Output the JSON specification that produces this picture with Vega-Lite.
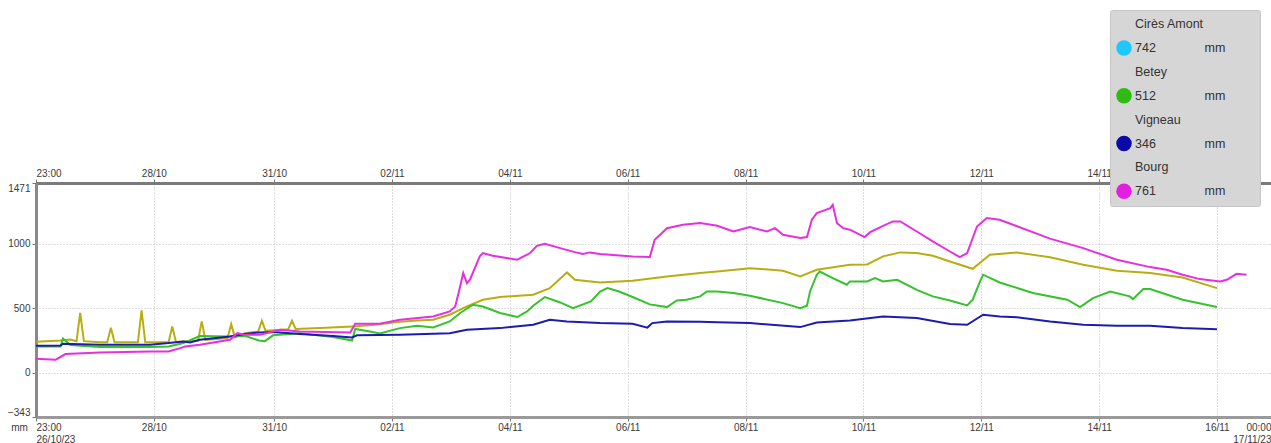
{
  "$schema": "https://vega.github.io/schema/vega-lite/v6.json",
  "width": 1235,
  "height": 234,
  "autosize": {"type": "none"},
  "padding": {"left": 36, "top": 183, "right": 0, "bottom": 26},
  "background": "white",
  "config": {
    "view": {"stroke": null},
    "font": "Liberation Sans"
  },
  "datasets": {
    "releves": [
      {"station":"Autre station","date":"2023-10-26T23:00","mm":240},
      {"station":"Autre station","date":"2023-10-27T09:00","mm":250},
      {"station":"Autre station","date":"2023-10-27T13:00","mm":258},
      {"station":"Autre station","date":"2023-10-27T15:30","mm":245},
      {"station":"Autre station","date":"2023-10-27T17:00","mm":465},
      {"station":"Autre station","date":"2023-10-27T18:30","mm":245},
      {"station":"Autre station","date":"2023-10-28T01:00","mm":236},
      {"station":"Autre station","date":"2023-10-28T04:00","mm":236},
      {"station":"Autre station","date":"2023-10-28T05:30","mm":348},
      {"station":"Autre station","date":"2023-10-28T07:00","mm":236},
      {"station":"Autre station","date":"2023-10-28T16:30","mm":236},
      {"station":"Autre station","date":"2023-10-28T18:00","mm":483},
      {"station":"Autre station","date":"2023-10-28T19:30","mm":236},
      {"station":"Autre station","date":"2023-10-29T05:00","mm":236},
      {"station":"Autre station","date":"2023-10-29T06:30","mm":359},
      {"station":"Autre station","date":"2023-10-29T08:00","mm":238},
      {"station":"Autre station","date":"2023-10-29T17:00","mm":250},
      {"station":"Autre station","date":"2023-10-29T18:30","mm":398},
      {"station":"Autre station","date":"2023-10-29T20:00","mm":255},
      {"station":"Autre station","date":"2023-10-30T05:00","mm":269},
      {"station":"Autre station","date":"2023-10-30T06:30","mm":377},
      {"station":"Autre station","date":"2023-10-30T08:00","mm":275},
      {"station":"Autre station","date":"2023-10-30T12:00","mm":307},
      {"station":"Autre station","date":"2023-10-30T17:30","mm":320},
      {"station":"Autre station","date":"2023-10-30T19:00","mm":403},
      {"station":"Autre station","date":"2023-10-30T20:30","mm":325},
      {"station":"Autre station","date":"2023-10-31T05:45","mm":338},
      {"station":"Autre station","date":"2023-10-31T07:15","mm":403},
      {"station":"Autre station","date":"2023-10-31T08:45","mm":340},
      {"station":"Autre station","date":"2023-10-31T18:45","mm":346},
      {"station":"Autre station","date":"2023-11-01T08:00","mm":359},
      {"station":"Autre station","date":"2023-11-01T16:00","mm":370},
      {"station":"Autre station","date":"2023-11-02T03:15","mm":395},
      {"station":"Autre station","date":"2023-11-02T10:15","mm":405},
      {"station":"Autre station","date":"2023-11-02T16:45","mm":411},
      {"station":"Autre station","date":"2023-11-02T23:30","mm":450},
      {"station":"Autre station","date":"2023-11-03T06:30","mm":514},
      {"station":"Autre station","date":"2023-11-03T13:00","mm":566},
      {"station":"Autre station","date":"2023-11-03T20:00","mm":587},
      {"station":"Autre station","date":"2023-11-04T09:30","mm":605},
      {"station":"Autre station","date":"2023-11-04T16:15","mm":656},
      {"station":"Autre station","date":"2023-11-04T23:15","mm":778},
      {"station":"Autre station","date":"2023-11-05T02:30","mm":721},
      {"station":"Autre station","date":"2023-11-05T12:45","mm":700},
      {"station":"Autre station","date":"2023-11-06T02:00","mm":713},
      {"station":"Autre station","date":"2023-11-06T16:00","mm":747},
      {"station":"Autre station","date":"2023-11-07T05:30","mm":773},
      {"station":"Autre station","date":"2023-11-07T12:30","mm":785},
      {"station":"Autre station","date":"2023-11-08T01:45","mm":811},
      {"station":"Autre station","date":"2023-11-08T15:15","mm":791},
      {"station":"Autre station","date":"2023-11-08T22:15","mm":747},
      {"station":"Autre station","date":"2023-11-09T05:00","mm":798},
      {"station":"Autre station","date":"2023-11-09T18:30","mm":837},
      {"station":"Autre station","date":"2023-11-10T01:30","mm":840},
      {"station":"Autre station","date":"2023-11-10T08:00","mm":902},
      {"station":"Autre station","date":"2023-11-10T15:00","mm":933},
      {"station":"Autre station","date":"2023-11-10T21:45","mm":928},
      {"station":"Autre station","date":"2023-11-11T04:15","mm":907},
      {"station":"Autre station","date":"2023-11-11T11:15","mm":863},
      {"station":"Autre station","date":"2023-11-11T20:30","mm":806},
      {"station":"Autre station","date":"2023-11-12T03:30","mm":915},
      {"station":"Autre station","date":"2023-11-12T14:30","mm":933},
      {"station":"Autre station","date":"2023-11-13T04:00","mm":895},
      {"station":"Autre station","date":"2023-11-13T17:30","mm":837},
      {"station":"Autre station","date":"2023-11-14T07:15","mm":791},
      {"station":"Autre station","date":"2023-11-14T20:45","mm":773},
      {"station":"Autre station","date":"2023-11-15T10:00","mm":739},
      {"station":"Autre station","date":"2023-11-16T00:00","mm":656},

      {"station":"Betey","date":"2023-10-26T23:00","mm":204},
      {"station":"Betey","date":"2023-10-27T09:00","mm":204},
      {"station":"Betey","date":"2023-10-27T10:00","mm":265},
      {"station":"Betey","date":"2023-10-27T13:00","mm":215},
      {"station":"Betey","date":"2023-10-28T01:00","mm":200},
      {"station":"Betey","date":"2023-10-28T21:30","mm":200},
      {"station":"Betey","date":"2023-10-29T05:00","mm":204},
      {"station":"Betey","date":"2023-10-29T11:00","mm":230},
      {"station":"Betey","date":"2023-10-29T17:45","mm":285},
      {"station":"Betey","date":"2023-10-30T06:00","mm":281},
      {"station":"Betey","date":"2023-10-30T12:00","mm":287},
      {"station":"Betey","date":"2023-10-30T17:45","mm":250},
      {"station":"Betey","date":"2023-10-30T20:15","mm":245},
      {"station":"Betey","date":"2023-10-30T23:30","mm":290},
      {"station":"Betey","date":"2023-10-31T10:30","mm":307},
      {"station":"Betey","date":"2023-11-01T00:00","mm":277},
      {"station":"Betey","date":"2023-11-01T07:45","mm":250},
      {"station":"Betey","date":"2023-11-01T09:00","mm":340},
      {"station":"Betey","date":"2023-11-01T15:00","mm":320},
      {"station":"Betey","date":"2023-11-01T19:00","mm":305},
      {"station":"Betey","date":"2023-11-02T03:15","mm":346},
      {"station":"Betey","date":"2023-11-02T10:15","mm":364},
      {"station":"Betey","date":"2023-11-02T16:45","mm":351},
      {"station":"Betey","date":"2023-11-02T23:30","mm":398},
      {"station":"Betey","date":"2023-11-03T03:45","mm":463},
      {"station":"Betey","date":"2023-11-03T09:00","mm":527},
      {"station":"Betey","date":"2023-11-03T13:00","mm":514},
      {"station":"Betey","date":"2023-11-03T20:00","mm":463},
      {"station":"Betey","date":"2023-11-04T03:00","mm":432},
      {"station":"Betey","date":"2023-11-04T07:00","mm":475},
      {"station":"Betey","date":"2023-11-04T09:30","mm":519},
      {"station":"Betey","date":"2023-11-04T14:15","mm":587},
      {"station":"Betey","date":"2023-11-04T20:30","mm":545},
      {"station":"Betey","date":"2023-11-05T01:45","mm":501},
      {"station":"Betey","date":"2023-11-05T09:00","mm":553},
      {"station":"Betey","date":"2023-11-05T12:45","mm":630},
      {"station":"Betey","date":"2023-11-05T15:45","mm":656},
      {"station":"Betey","date":"2023-11-05T20:30","mm":630},
      {"station":"Betey","date":"2023-11-06T02:00","mm":587},
      {"station":"Betey","date":"2023-11-06T09:00","mm":530},
      {"station":"Betey","date":"2023-11-06T16:00","mm":509},
      {"station":"Betey","date":"2023-11-06T20:00","mm":560},
      {"station":"Betey","date":"2023-11-07T00:00","mm":566},
      {"station":"Betey","date":"2023-11-07T05:30","mm":592},
      {"station":"Betey","date":"2023-11-07T08:15","mm":630},
      {"station":"Betey","date":"2023-11-07T12:30","mm":630},
      {"station":"Betey","date":"2023-11-07T19:00","mm":618},
      {"station":"Betey","date":"2023-11-08T01:45","mm":597},
      {"station":"Betey","date":"2023-11-08T15:15","mm":540},
      {"station":"Betey","date":"2023-11-08T22:15","mm":501},
      {"station":"Betey","date":"2023-11-09T01:00","mm":520},
      {"station":"Betey","date":"2023-11-09T02:15","mm":630},
      {"station":"Betey","date":"2023-11-09T05:00","mm":760},
      {"station":"Betey","date":"2023-11-09T06:15","mm":785},
      {"station":"Betey","date":"2023-11-09T11:30","mm":734},
      {"station":"Betey","date":"2023-11-09T17:15","mm":682},
      {"station":"Betey","date":"2023-11-09T18:30","mm":708},
      {"station":"Betey","date":"2023-11-10T01:30","mm":708},
      {"station":"Betey","date":"2023-11-10T04:45","mm":734},
      {"station":"Betey","date":"2023-11-10T08:00","mm":708},
      {"station":"Betey","date":"2023-11-10T13:45","mm":721},
      {"station":"Betey","date":"2023-11-10T21:45","mm":643},
      {"station":"Betey","date":"2023-11-11T04:15","mm":592},
      {"station":"Betey","date":"2023-11-11T11:15","mm":560},
      {"station":"Betey","date":"2023-11-11T18:15","mm":522},
      {"station":"Betey","date":"2023-11-11T20:30","mm":566},
      {"station":"Betey","date":"2023-11-11T23:30","mm":708},
      {"station":"Betey","date":"2023-11-12T00:45","mm":760},
      {"station":"Betey","date":"2023-11-12T07:30","mm":700},
      {"station":"Betey","date":"2023-11-12T21:00","mm":618},
      {"station":"Betey","date":"2023-11-13T11:00","mm":566},
      {"station":"Betey","date":"2023-11-13T16:15","mm":509},
      {"station":"Betey","date":"2023-11-13T21:30","mm":579},
      {"station":"Betey","date":"2023-11-14T04:30","mm":630},
      {"station":"Betey","date":"2023-11-14T12:30","mm":592},
      {"station":"Betey","date":"2023-11-14T13:45","mm":571},
      {"station":"Betey","date":"2023-11-14T18:00","mm":649},
      {"station":"Betey","date":"2023-11-14T20:45","mm":649},
      {"station":"Betey","date":"2023-11-15T10:00","mm":566},
      {"station":"Betey","date":"2023-11-16T00:00","mm":509},

      {"station":"Vigneau","date":"2023-10-26T23:00","mm":209},
      {"station":"Vigneau","date":"2023-10-27T09:00","mm":212},
      {"station":"Vigneau","date":"2023-10-27T10:00","mm":225},
      {"station":"Vigneau","date":"2023-10-28T01:00","mm":218},
      {"station":"Vigneau","date":"2023-10-28T21:30","mm":217},
      {"station":"Vigneau","date":"2023-10-29T05:00","mm":230},
      {"station":"Vigneau","date":"2023-10-29T11:00","mm":243},
      {"station":"Vigneau","date":"2023-10-29T13:45","mm":235},
      {"station":"Vigneau","date":"2023-10-29T17:45","mm":256},
      {"station":"Vigneau","date":"2023-10-30T06:00","mm":281},
      {"station":"Vigneau","date":"2023-10-30T12:00","mm":300},
      {"station":"Vigneau","date":"2023-10-30T18:15","mm":313},
      {"station":"Vigneau","date":"2023-10-30T23:30","mm":315},
      {"station":"Vigneau","date":"2023-10-31T10:30","mm":300},
      {"station":"Vigneau","date":"2023-11-01T00:00","mm":285},
      {"station":"Vigneau","date":"2023-11-01T07:45","mm":274},
      {"station":"Vigneau","date":"2023-11-01T09:45","mm":290},
      {"station":"Vigneau","date":"2023-11-02T03:15","mm":294},
      {"station":"Vigneau","date":"2023-11-02T23:30","mm":307},
      {"station":"Vigneau","date":"2023-11-03T06:30","mm":333},
      {"station":"Vigneau","date":"2023-11-03T20:00","mm":346},
      {"station":"Vigneau","date":"2023-11-04T09:30","mm":372},
      {"station":"Vigneau","date":"2023-11-04T16:15","mm":411},
      {"station":"Vigneau","date":"2023-11-04T23:15","mm":398},
      {"station":"Vigneau","date":"2023-11-05T12:45","mm":385},
      {"station":"Vigneau","date":"2023-11-06T02:00","mm":380},
      {"station":"Vigneau","date":"2023-11-06T08:00","mm":350},
      {"station":"Vigneau","date":"2023-11-06T10:00","mm":385},
      {"station":"Vigneau","date":"2023-11-06T16:00","mm":398},
      {"station":"Vigneau","date":"2023-11-07T05:30","mm":395},
      {"station":"Vigneau","date":"2023-11-07T12:30","mm":392},
      {"station":"Vigneau","date":"2023-11-08T01:45","mm":385},
      {"station":"Vigneau","date":"2023-11-08T22:15","mm":354},
      {"station":"Vigneau","date":"2023-11-09T05:00","mm":390},
      {"station":"Vigneau","date":"2023-11-09T18:30","mm":405},
      {"station":"Vigneau","date":"2023-11-10T08:00","mm":436},
      {"station":"Vigneau","date":"2023-11-10T21:45","mm":424},
      {"station":"Vigneau","date":"2023-11-11T11:15","mm":378},
      {"station":"Vigneau","date":"2023-11-11T18:15","mm":372},
      {"station":"Vigneau","date":"2023-11-12T00:45","mm":450},
      {"station":"Vigneau","date":"2023-11-12T07:30","mm":436},
      {"station":"Vigneau","date":"2023-11-12T14:30","mm":431},
      {"station":"Vigneau","date":"2023-11-13T04:00","mm":398},
      {"station":"Vigneau","date":"2023-11-13T17:30","mm":372},
      {"station":"Vigneau","date":"2023-11-14T07:15","mm":364},
      {"station":"Vigneau","date":"2023-11-14T20:45","mm":364},
      {"station":"Vigneau","date":"2023-11-15T10:00","mm":346},
      {"station":"Vigneau","date":"2023-11-16T00:00","mm":338},

      {"station":"Bourg","date":"2023-10-26T23:00","mm":108},
      {"station":"Bourg","date":"2023-10-27T07:00","mm":101},
      {"station":"Bourg","date":"2023-10-27T11:00","mm":145},
      {"station":"Bourg","date":"2023-10-28T01:00","mm":157},
      {"station":"Bourg","date":"2023-10-28T21:30","mm":165},
      {"station":"Bourg","date":"2023-10-29T05:00","mm":165},
      {"station":"Bourg","date":"2023-10-29T09:45","mm":191},
      {"station":"Bourg","date":"2023-10-29T11:45","mm":204},
      {"station":"Bourg","date":"2023-10-29T17:45","mm":217},
      {"station":"Bourg","date":"2023-10-30T06:00","mm":256},
      {"station":"Bourg","date":"2023-10-30T09:00","mm":307},
      {"station":"Bourg","date":"2023-10-30T12:00","mm":294},
      {"station":"Bourg","date":"2023-10-30T18:15","mm":294},
      {"station":"Bourg","date":"2023-10-31T02:30","mm":333},
      {"station":"Bourg","date":"2023-10-31T10:30","mm":320},
      {"station":"Bourg","date":"2023-11-01T07:00","mm":313},
      {"station":"Bourg","date":"2023-11-01T09:00","mm":380},
      {"station":"Bourg","date":"2023-11-01T19:00","mm":380},
      {"station":"Bourg","date":"2023-11-02T03:15","mm":411},
      {"station":"Bourg","date":"2023-11-02T16:45","mm":436},
      {"station":"Bourg","date":"2023-11-02T23:30","mm":475},
      {"station":"Bourg","date":"2023-11-03T01:45","mm":514},
      {"station":"Bourg","date":"2023-11-03T03:45","mm":669},
      {"station":"Bourg","date":"2023-11-03T05:00","mm":773},
      {"station":"Bourg","date":"2023-11-03T06:30","mm":695},
      {"station":"Bourg","date":"2023-11-03T07:45","mm":721},
      {"station":"Bourg","date":"2023-11-03T11:45","mm":902},
      {"station":"Bourg","date":"2023-11-03T13:00","mm":928},
      {"station":"Bourg","date":"2023-11-03T17:00","mm":907},
      {"station":"Bourg","date":"2023-11-03T22:45","mm":889},
      {"station":"Bourg","date":"2023-11-04T03:00","mm":876},
      {"station":"Bourg","date":"2023-11-04T08:15","mm":928},
      {"station":"Bourg","date":"2023-11-04T11:00","mm":984},
      {"station":"Bourg","date":"2023-11-04T14:15","mm":1000},
      {"station":"Bourg","date":"2023-11-04T20:30","mm":966},
      {"station":"Bourg","date":"2023-11-05T02:30","mm":935},
      {"station":"Bourg","date":"2023-11-05T05:45","mm":920},
      {"station":"Bourg","date":"2023-11-05T08:30","mm":933},
      {"station":"Bourg","date":"2023-11-05T12:45","mm":920},
      {"station":"Bourg","date":"2023-11-06T02:00","mm":902},
      {"station":"Bourg","date":"2023-11-06T09:00","mm":897},
      {"station":"Bourg","date":"2023-11-06T11:00","mm":1031},
      {"station":"Bourg","date":"2023-11-06T16:00","mm":1121},
      {"station":"Bourg","date":"2023-11-06T22:30","mm":1147},
      {"station":"Bourg","date":"2023-11-07T05:30","mm":1160},
      {"station":"Bourg","date":"2023-11-07T12:30","mm":1139},
      {"station":"Bourg","date":"2023-11-07T19:00","mm":1095},
      {"station":"Bourg","date":"2023-11-08T01:45","mm":1129},
      {"station":"Bourg","date":"2023-11-08T08:45","mm":1095},
      {"station":"Bourg","date":"2023-11-08T12:00","mm":1121},
      {"station":"Bourg","date":"2023-11-08T15:15","mm":1070},
      {"station":"Bourg","date":"2023-11-08T22:15","mm":1044},
      {"station":"Bourg","date":"2023-11-09T01:00","mm":1052},
      {"station":"Bourg","date":"2023-11-09T03:00","mm":1186},
      {"station":"Bourg","date":"2023-11-09T05:00","mm":1238},
      {"station":"Bourg","date":"2023-11-09T10:30","mm":1276},
      {"station":"Bourg","date":"2023-11-09T11:30","mm":1302},
      {"station":"Bourg","date":"2023-11-09T13:15","mm":1160},
      {"station":"Bourg","date":"2023-11-09T15:45","mm":1121},
      {"station":"Bourg","date":"2023-11-09T18:30","mm":1109},
      {"station":"Bourg","date":"2023-11-10T00:30","mm":1052},
      {"station":"Bourg","date":"2023-11-10T02:45","mm":1090},
      {"station":"Bourg","date":"2023-11-10T08:00","mm":1139},
      {"station":"Bourg","date":"2023-11-10T12:00","mm":1173},
      {"station":"Bourg","date":"2023-11-10T15:00","mm":1173},
      {"station":"Bourg","date":"2023-11-10T21:45","mm":1095},
      {"station":"Bourg","date":"2023-11-11T04:15","mm":1018},
      {"station":"Bourg","date":"2023-11-11T11:15","mm":940},
      {"station":"Bourg","date":"2023-11-11T15:15","mm":897},
      {"station":"Bourg","date":"2023-11-11T18:15","mm":928},
      {"station":"Bourg","date":"2023-11-11T22:15","mm":1134},
      {"station":"Bourg","date":"2023-11-12T02:15","mm":1199},
      {"station":"Bourg","date":"2023-11-12T07:30","mm":1186},
      {"station":"Bourg","date":"2023-11-13T04:00","mm":1040},
      {"station":"Bourg","date":"2023-11-13T17:30","mm":966},
      {"station":"Bourg","date":"2023-11-14T07:15","mm":876},
      {"station":"Bourg","date":"2023-11-14T20:45","mm":819},
      {"station":"Bourg","date":"2023-11-15T03:30","mm":798},
      {"station":"Bourg","date":"2023-11-15T10:00","mm":760},
      {"station":"Bourg","date":"2023-11-15T17:00","mm":726},
      {"station":"Bourg","date":"2023-11-16T01:15","mm":708},
      {"station":"Bourg","date":"2023-11-16T04:00","mm":721},
      {"station":"Bourg","date":"2023-11-16T08:00","mm":767},
      {"station":"Bourg","date":"2023-11-16T12:00","mm":760}
    ]
  },
  "data": {"name": "releves"},
  "layer": [
    {
      "transform": [{"filter": "false"}],
      "mark": {"type": "point", "filled": true, "opacity": 1, "size": 240},
      "encoding": {
        "x": {
          "field": "date", "type": "temporal",
          "scale": {"domain": [{"year": 2023, "month": 10, "date": 26, "hours": 23}, {"year": 2023, "month": 11, "date": 16, "hours": 22}]},
          "axis": {
            "orient": "top", "title": null,
            "values": [
              {"year": 2023, "month": 10, "date": 26, "hours": 23},
              {"year": 2023, "month": 10, "date": 28, "hours": 23},
              {"year": 2023, "month": 10, "date": 31},
              {"year": 2023, "month": 11, "date": 2},
              {"year": 2023, "month": 11, "date": 4},
              {"year": 2023, "month": 11, "date": 6},
              {"year": 2023, "month": 11, "date": 8},
              {"year": 2023, "month": 11, "date": 10},
              {"year": 2023, "month": 11, "date": 12},
              {"year": 2023, "month": 11, "date": 14},
              {"year": 2023, "month": 11, "date": 16}
            ],
            "labelExpr": "timeFormat(datum.value, '%d/%m %H') == '26/10 23' ? '23:00' : timeFormat(datum.value, '%d/%m')",
            "labelFlush": true, "labelOverlap": false,
            "labelFontSize": 10, "labelColor": "#3a3a3a", "labelPadding": 1,
            "tickSize": 4, "tickColor": "#777777",
            "domainColor": "#7a7a7a", "domainWidth": 3,
            "grid": false
          }
        },
        "fill": {
          "field": "legende", "type": "nominal",
          "scale": {
            "domain": ["Cirès Amont", "742", "Betey", "512", "Vigneau", "346", "Bourg", "761"],
            "range": ["transparent", "#1ec8fa", "transparent", "#2dbb14", "transparent", "#0a0aa8", "transparent", "#e21ee0"]
          },
          "legend": {
            "orient": "none", "legendX": 1074, "legendY": -173,
            "title": null,
            "symbolType": "circle", "symbolSize": 240, "symbolStrokeWidth": 0, "symbolOpacity": 1,
            "labelExpr": "isNaN(toNumber(datum.label)) ? datum.label : datum.label + '\u00a0\u00a0\u00a0\u00a0\u00a0\u00a0\u00a0\u00a0\u00a0\u00a0\u00a0\u00a0\u00a0\u00a0mm\u00a0\u00a0\u00a0\u00a0\u00a0\u00a0\u00a0\u00a0\u200b'",
            "labelFontSize": 12.5, "labelColor": "#333333", "labelBaseline": "middle",
            "labelOffset": 3, "labelLimit": 300,
            "fillColor": "#d6d6d6", "strokeColor": "#c6c6c6",
            "padding": 6, "rowPadding": 7.9, "cornerRadius": 2, "zindex": 1
          }
        }
      }
    },
    {
      "mark": {"type": "line", "strokeWidth": 2, "clip": true},
      "encoding": {
        "x": {
          "field": "date", "type": "temporal",
          "scale": {"domain": [{"year": 2023, "month": 10, "date": 26, "hours": 23}, {"year": 2023, "month": 11, "date": 16, "hours": 22}]},
          "axis": {
            "orient": "bottom", "title": null,
            "values": [
              {"year": 2023, "month": 10, "date": 26, "hours": 23},
              {"year": 2023, "month": 10, "date": 28, "hours": 23},
              {"year": 2023, "month": 10, "date": 31},
              {"year": 2023, "month": 11, "date": 2},
              {"year": 2023, "month": 11, "date": 4},
              {"year": 2023, "month": 11, "date": 6},
              {"year": 2023, "month": 11, "date": 8},
              {"year": 2023, "month": 11, "date": 10},
              {"year": 2023, "month": 11, "date": 12},
              {"year": 2023, "month": 11, "date": 14},
              {"year": 2023, "month": 11, "date": 16},
              {"year": 2023, "month": 11, "date": 16, "hours": 22}
            ],
            "labelExpr": "timeFormat(datum.value, '%d/%m %H') == '26/10 23' ? ['23:00', '26/10/23'] : timeFormat(datum.value, '%H') == '22' ? ['00:00', '17/11/23'] : timeFormat(datum.value, '%d/%m')",
            "labelFlush": true, "labelOverlap": false,
            "labelFontSize": 10, "labelColor": "#3a3a3a", "labelPadding": 1, "labelLineHeight": 12,
            "tickSize": 4, "tickColor": "#777777",
            "domainColor": "#9a9a9a", "domainWidth": 3,
            "grid": true, "gridColor": "#bdbdbd", "gridDash": [1, 2]
          }
        },
        "y": {
          "field": "mm", "type": "quantitative",
          "scale": {"domain": [-343, 1471], "nice": false, "zero": false},
          "axis": {
            "values": [-343, 0, 500, 1000, 1471],
            "format": "d",
            "labelFlush": true, "labelOverlap": false,
            "labelFontSize": 10, "labelColor": "#3a3a3a", "labelPadding": 2,
            "tickSize": 4, "tickColor": "#777777",
            "domainColor": "#8a8a8a", "domainWidth": 3,
            "grid": true, "gridColor": "#bdbdbd", "gridDash": [1, 2],
            "title": "mm", "titleAngle": 0, "titleX": -17, "titleY": 244,
            "titleAlign": "center", "titleBaseline": "middle",
            "titleFontSize": 10, "titleFontWeight": "normal", "titleColor": "#3a3a3a"
          }
        },
        "color": {
          "field": "station", "type": "nominal",
          "scale": {
            "domain": ["Cirès Amont", "Betey", "Vigneau", "Bourg", "Autre station"],
            "range": ["#1ec8fa", "#36c22a", "#1c1cb2", "#e530e0", "#b8ae12"]
          },
          "legend": null
        }
      }
    }
  ],
  "resolve": {"axis": {"x": "independent"}}
}
